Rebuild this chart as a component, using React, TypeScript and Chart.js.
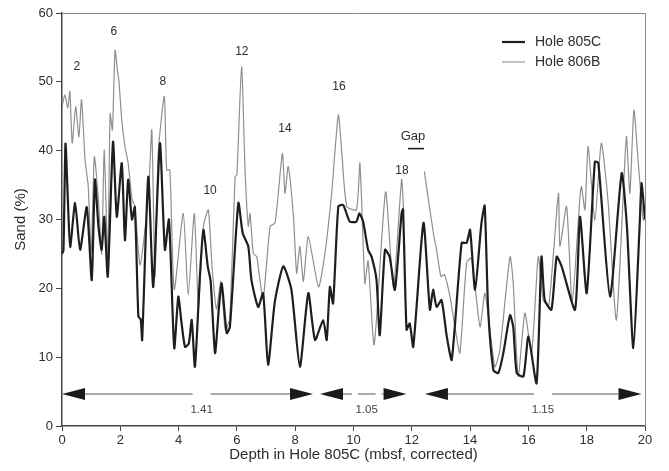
import React, { useEffect, useRef } from 'react';
import { Chart, registerables } from 'chart.js';
Chart.register(...registerables);

// Hole 805C (black, heavy line)
const hole805cDepth = [
  0, 0.05, 0.12, 0.2, 0.28, 0.45, 0.62, 0.85, 1.02, 1.13, 1.25, 1.36, 1.45, 1.57, 1.75, 1.88, 2.05, 2.16, 2.27, 2.4,
  2.5, 2.62, 2.7, 2.75, 2.96, 3.13, 3.36, 3.53, 3.67, 3.85, 3.99, 4.1, 4.22, 4.35, 4.45, 4.56, 4.73, 4.85, 5.0, 5.1,
  5.25, 5.38, 5.48, 5.65, 5.76, 6.05, 6.2, 6.39, 6.5, 6.73, 6.9, 7.07, 7.3, 7.59, 7.87, 8.16, 8.45, 8.68, 8.96, 9.08,
  9.19, 9.3, 9.48, 9.65, 9.87, 10.1, 10.2, 10.33, 10.5, 10.62, 10.79, 10.9, 11.08, 11.24, 11.42, 11.65, 11.7, 11.82, 11.93, 12.05,
  12.4, 12.62, 12.73, 12.85, 13.02, 13.2, 13.37, 13.71, 13.88, 14.0, 14.17, 14.39, 14.5, 14.62, 14.8, 14.97, 15.14, 15.37, 15.48, 15.6,
  15.83, 16.0, 16.28, 16.45, 16.56, 16.79, 16.97, 17.14, 17.6, 17.77, 18.0, 18.28, 18.4, 18.8, 19.2, 19.38, 19.6, 19.82, 19.88, 20,
];
const hole805cSand = [
  25, 25.5, 41, 33, 26, 32.4, 25.6, 31.8, 21.2, 35.8, 29, 25.6, 30.4, 21.7, 41.3, 30.4, 38.2, 27, 35.8, 30,
  31.8, 15.9, 15.5, 12.5, 36.2, 20.2, 41.1, 25.6, 30, 11.3, 18.8, 15, 11.5, 12, 15.4, 8.6, 21.7, 28.5, 23.2, 21,
  10.6, 17, 20.7, 13.5, 14.4, 32.4, 28, 26.1, 21.2, 17.3, 19.3, 8.9, 18, 23.2, 19.8, 8.6, 19.3, 12.5, 15.4, 12.5,
  20.2, 17.8, 31.9, 32.1, 29.7, 29.7, 30.9, 29.7, 25.6, 24.6, 21.2, 13.2, 25.6, 24.6, 19.8, 30.9, 31.5, 14, 14.9, 11.5,
  29.5, 16.9, 19.8, 17.3, 18.3, 13, 9.6, 26.6, 26.6, 28.5, 19.8, 29.5, 32, 16.9, 8.1, 7.7, 10.6, 16.1, 14.4, 7.7,
  7.2, 13, 6.2, 24.6, 18.3, 16.9, 24.6, 23.2, 16.9, 30.4, 19.3, 38.4, 38.2, 18.8, 36.7, 29, 11.3, 29.5, 35.3, 30,
];

// Hole 806B (grey, thin line); null marks the core gap
const hole806bDepth = [
  0, 0.1, 0.2, 0.27, 0.35, 0.47, 0.58, 0.67, 0.79, 0.9, 1.0, 1.11, 1.25, 1.36, 1.45, 1.57, 1.65, 1.73, 1.82, 1.91,
  1.95, 2.05, 2.16, 2.27, 2.4, 2.5, 2.68, 2.96, 3.08, 3.19, 3.3, 3.51, 3.59, 3.7, 3.85, 4.16, 4.33, 4.54, 4.68, 4.85,
  5.02, 5.15, 5.3, 5.45, 5.6, 5.75, 5.94, 6.0, 6.16, 6.28, 6.39, 6.45, 6.56, 6.68, 6.73, 6.9, 7.14, 7.31, 7.56, 7.65,
  7.76, 7.94, 8.05, 8.16, 8.28, 8.45, 8.8, 9.02, 9.25, 9.48, 9.6, 9.77, 10.1, 10.22, 10.39, 10.5, 10.71, 11.1, 11.37, 11.65,
  11.72, 12.0, 12.43, 12.74, 12.85, 13.0, 13.12, 13.31, 13.48, 13.65, 13.88, 14.05, 14.34, 14.51, 14.85, 15.02, 15.37, 15.48, 15.65, 15.88,
  16.11, 16.34, 16.51, 16.7, 17.03, 17.08, 17.31, 17.5, 17.77, 17.82, 17.94, 18.05, 18.28, 18.5, 18.73, 19.02, 19.36, 19.48, 19.62, 19.77,
  19.94, 20,
];
const hole806bSand = [
  46.4, 48.1, 46.2, 48.6, 41.1, 46.4, 42, 47.4, 38.7, 34.8, 25.1, 39.1, 32.8, 25, 40.1, 24, 45.4, 43, 54.6, 51.3,
  50.3, 44.5, 40.6, 38.2, 33, 31.9, 23.4, 33.3, 43, 21.7, 39.6, 47.9, 37.2, 37.2, 19.8, 30.9, 19, 30.9, 17.3, 29,
  31.4, 23, 17, 21, 14, 15.5, 36.2, 36.5, 52.2, 37.2, 29, 30.9, 25.1, 24.6, 23.2, 18.5, 29, 29.5, 39.6, 33.8,
  37.7, 30.4, 22.2, 26.1, 21, 27.5, 20.2, 25.1, 33.8, 45.2, 39.6, 31.9, 31.4, 38.2, 20.7, 24, 11.8, 34, 20.2, 35.8,
  31.1, null, 37, 28, 25.6, 21.7, 22, 18.8, 14.4, 10.6, 23.7, 24.4, 14.4, 19.3, 8.6, 11, 24.6, 20.7, 7.2, 16.4,
  10.6, 24.6, 18.3, 17.5, 33.8, 26.1, 31.9, 18, 33.3, 34.8, 31.4, 40.6, 29.9, 41.1, 32.8, 15.4, 42, 33.8, 45.9, 38.2,
  29.9, 30.5,
];

// Peak numbers written above the records
const peakLabels = ['2', '6', '8', '10', '12', '14', '16', '18'];
const peakLabelDepth = [0.51, 1.78, 3.46, 5.08, 6.17, 7.65, 9.5, 11.66];
const peakLabelSand = [52.2, 57.3, 50, 34.2, 54.4, 43.2, 49.3, 37.1];

// Sedimentation-rate ratio spans (arrows)
const spanLabels = ['1.41', '1.05', '1.15'];
const spanStart = [0, 8.85, 12.45];
const spanEnd = [8.61, 11.82, 19.88];
const spanLabelDepth = [4.79, 10.45, 16.5];

const FONT = "'Liberation Sans', Arial, Helvetica, sans-serif";
const TEXT = '#2e2e2e';

const overlayPlugin = {
  id: 'overlay',
  afterDraw(chart: any) {
    const { ctx, chartArea, scales } = chart;
    const xs = scales.x;
    const ys = scales.y;
    ctx.save();
    // frame top and right
    ctx.strokeStyle = '#8a8a8a';
    ctx.lineWidth = 1;
    ctx.beginPath();
    ctx.moveTo(chartArea.left, chartArea.top + 0.5);
    ctx.lineTo(chartArea.right + 0.5, chartArea.top + 0.5);
    ctx.lineTo(chartArea.right + 0.5, chartArea.bottom);
    ctx.stroke();

    // peak labels
    ctx.fillStyle = TEXT;
    ctx.font = `12px ${FONT}`;
    ctx.textAlign = 'center';
    ctx.textBaseline = 'middle';
    peakLabels.forEach((t, i) => {
      ctx.fillText(t, xs.getPixelForValue(peakLabelDepth[i]), ys.getPixelForValue(peakLabelSand[i]));
    });
    // Gap label
    ctx.font = `13px ${FONT}`;
    ctx.fillText('Gap', xs.getPixelForValue(12.04), ys.getPixelForValue(42));
    ctx.strokeStyle = '#222';
    ctx.lineWidth = 1.6;
    ctx.beginPath();
    ctx.moveTo(xs.getPixelForValue(11.87), ys.getPixelForValue(40.3));
    ctx.lineTo(xs.getPixelForValue(12.42), ys.getPixelForValue(40.3));
    ctx.stroke();

    // arrows
    const ay = ys.getPixelForValue(4.65);
    const ly = ys.getPixelForValue(2.4);
    const headL = 23;
    const headH = 6;
    spanLabels.forEach((lab, i) => {
      const x0 = xs.getPixelForValue(spanStart[i]);
      const x1 = xs.getPixelForValue(spanEnd[i]);
      const xm = xs.getPixelForValue(spanLabelDepth[i]);
      ctx.fillStyle = '#1a1a1a';
      ctx.beginPath();
      ctx.moveTo(x0, ay);
      ctx.lineTo(x0 + headL, ay - headH);
      ctx.lineTo(x0 + headL, ay + headH);
      ctx.closePath();
      ctx.fill();
      ctx.beginPath();
      ctx.moveTo(x1, ay);
      ctx.lineTo(x1 - headL, ay - headH);
      ctx.lineTo(x1 - headL, ay + headH);
      ctx.closePath();
      ctx.fill();
      ctx.strokeStyle = '#555';
      ctx.lineWidth = 1;
      if (i === 1) ctx.setLineDash([9, 6]);
      else ctx.setLineDash([]);
      const gap = i === 1 ? 0 : 9;
      ctx.beginPath();
      ctx.moveTo(x0 + headL, ay);
      ctx.lineTo(xm - gap, ay);
      ctx.moveTo(xm + gap, ay);
      ctx.lineTo(x1 - headL, ay);
      ctx.stroke();
      ctx.setLineDash([]);
      ctx.fillStyle = '#444';
      ctx.font = `11.5px ${FONT}`;
      ctx.fillText(lab, xm, ly);
    });

    // legend
    const lx = chartArea.right - 143;
    const entries = [
      { t: 'Hole 805C', c: '#1e1e1e', w: 2.2, y: chartArea.top + 29 },
      { t: 'Hole 806B', c: '#9a9a9a', w: 1.2, y: chartArea.top + 49 },
    ];
    entries.forEach((e) => {
      ctx.strokeStyle = e.c;
      ctx.lineWidth = e.w;
      ctx.beginPath();
      ctx.moveTo(lx, e.y);
      ctx.lineTo(lx + 23, e.y);
      ctx.stroke();
      ctx.fillStyle = TEXT;
      ctx.font = `14px ${FONT}`;
      ctx.textAlign = 'left';
      ctx.fillText(e.t, lx + 33, e.y);
    });
    ctx.restore();
  },
};

export default function App() {
  const ref = useRef<HTMLCanvasElement>(null);
  useEffect(() => {
    const d805 = hole805cDepth.map((x, i) => ({ x, y: hole805cSand[i] }));
    const d806 = hole806bDepth.map((x, i) => ({ x, y: hole806bSand[i] }));
    const chart = new Chart(ref.current as HTMLCanvasElement, {
      type: 'line',
      data: {
        datasets: [
          {
            label: 'Hole 805C',
            data: d805 as any,
            borderColor: '#1e1e1e',
            borderWidth: 2.2,
            pointRadius: 0,
            tension: 0.2,
            fill: false,
          },
          {
            label: 'Hole 806B',
            data: d806 as any,
            borderColor: '#8f8f8f',
            borderWidth: 1.2,
            pointRadius: 0,
            tension: 0.2,
            spanGaps: false,
            fill: false,
          },
        ],
      },
      options: {
        responsive: false,
        animation: false,
        devicePixelRatio: 1,
        layout: { padding: { top: 13, right: 24, left: 0, bottom: 0 } },
        plugins: { legend: { display: false }, tooltip: { enabled: false } },
        scales: {
          x: {
            type: 'linear',
            min: 0,
            max: 20,
            ticks: { stepSize: 2, color: TEXT, font: { family: FONT, size: 13 }, padding: 2, maxRotation: 0 },
            grid: { drawOnChartArea: false, tickLength: 5, color: '#444' },
            border: { color: '#444', width: 1.5 },
            title: {
              display: true,
              text: 'Depth in Hole 805C (mbsf, corrected)',
              color: TEXT,
              font: { family: FONT, size: 15 },
              padding: { top: 0, bottom: 7 },
            },
            afterFit: (s: any) => {
              s.height = 45;
            },
          },
          y: {
            min: 0,
            max: 60,
            ticks: { stepSize: 10, color: TEXT, font: { family: FONT, size: 13 }, padding: 3 },
            grid: { drawOnChartArea: false, tickLength: 6, color: '#444' },
            border: { color: '#444', width: 1.5 },
            title: {
              display: true,
              text: 'Sand (%)',
              color: TEXT,
              font: { family: FONT, size: 15 },
              padding: { top: 12, bottom: 0 },
            },
            afterFit: (s: any) => {
              s.width = 62;
            },
          },
        },
      },
      plugins: [overlayPlugin],
    });
    return () => chart.destroy();
  }, []);
  return (
    <div style={{ position: 'absolute', left: 0, top: 0, width: 669, height: 471, background: '#fff' }}>
      <canvas ref={ref} width={669} height={471} style={{ display: 'block' }} />
    </div>
  );
}
